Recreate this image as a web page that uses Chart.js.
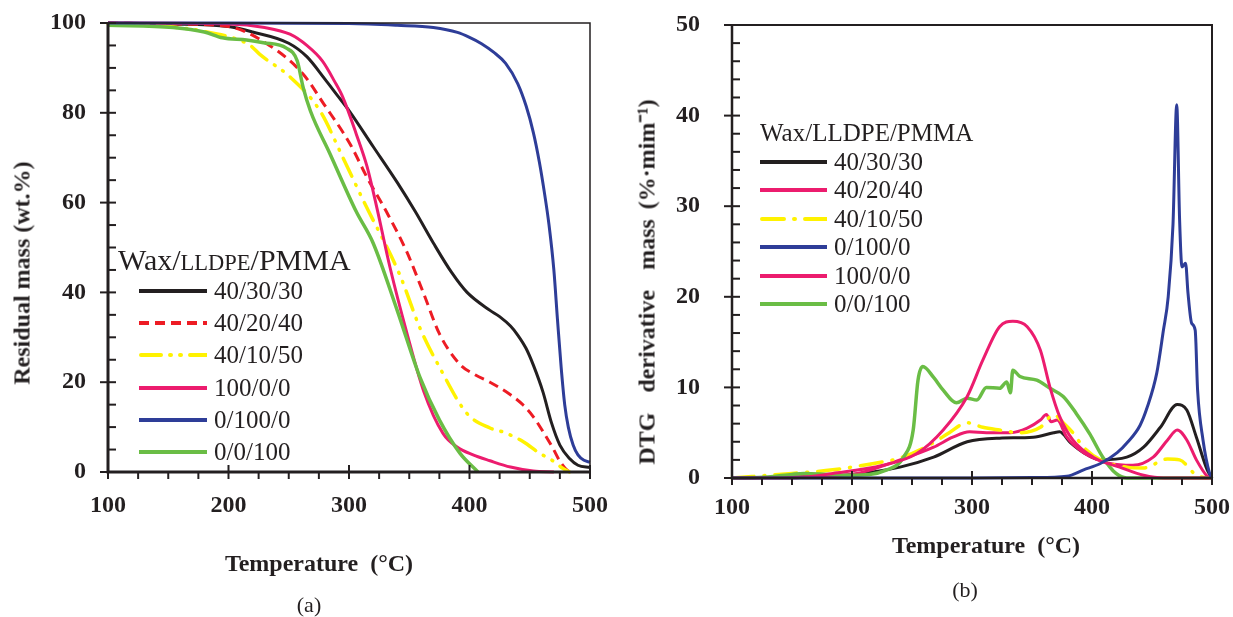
<!DOCTYPE html>
<html>
<head>
<meta charset="utf-8">
<script src="https://cdn.jsdelivr.net/npm/chart.js@4.4.1/dist/chart.umd.min.js"></script>
<style>
  body { margin: 0; background: #fff; width: 1233px; height: 617px; position: relative; overflow: hidden;
         font-family: "Liberation Serif", "Times New Roman", serif; color: #231f20; }
  canvas { position: absolute; top: 0; }
  #tg { left: 0; }
  #dtg { left: 620px; }
  .ttl { position: absolute; white-space: pre; font-weight: bold; font-size: 24px; transform: translate(-50%, -50%); }
  .ttl.rot { transform: translate(-50%, -50%) rotate(-90deg); }
  .cap { position: absolute; font-size: 22px; transform: translate(-50%, -50%); }
  .legTitle { position: absolute; white-space: pre; transform: translateY(-50%); }
  .row { position: absolute; display: flex; align-items: center; transform: translateY(-50%); white-space: pre; }
  .row svg { display: block; }
</style>
</head>
<body>
<canvas id="tg" width="620" height="617"></canvas>
<canvas id="dtg" width="613" height="617"></canvas>

<div class="ttl rot" style="left:22px; top:273px;">Residual mass (wt.%)</div>
<div class="ttl" style="left:319px; top:563px;">Temperature  (°C)</div>
<div class="cap" style="left:309px; top:605px;">(a)</div>

<div class="ttl rot" style="left:645px; top:282px; word-spacing:4px;">DTG  derivative  mass (%·mim⁻¹)</div>
<div class="ttl" style="left:986px; top:545px;">Temperature  (°C)</div>
<div class="cap" style="left:965px; top:590px;">(b)</div>

<div class="legTitle" style="left:118px; top:260px; font-size:30px;">Wax/<span style="font-size:22.5px">LLDPE</span>/PMMA</div>
<div class="legTitle" style="left:760px; top:133px; font-size:25px;">Wax/LLDPE/PMMA</div>
<div id="legA"></div>
<div id="legB"></div>

<script>
// ---------- axis ticks ----------
const xTicks = [100, 200, 300, 400, 500];
const tgTicks = [0, 20, 40, 60, 80, 100];
const dtgTicks = [0, 10, 20, 30, 40, 50];

// ---------- (a) TG curves: temperature (°C) / residual mass (wt.%) ----------
const tgLabels = ['40/30/30', '40/20/40', '40/10/50', '100/0/0', '0/100/0', '0/0/100'];

const tgT_40_30_30 = [100, 150, 200, 220, 250, 265, 280, 290, 300, 320, 340, 355, 370, 385, 398, 417, 425, 434, 440, 447, 453, 461, 468, 475, 483, 490, 500];
const tgW_40_30_30 = [100, 99.8, 99.2, 98, 95.5, 92.5, 87.5, 84, 80.5, 72.5, 64.5, 58, 51, 44.5, 40, 36, 34.6, 32.5, 30.5, 27.5, 23.8, 17.8, 11, 6, 3, 1.5, 1];

const tgT_40_20_40 = [100, 150, 200, 234, 262, 279, 301, 315, 331, 348, 362, 375, 392, 405, 417, 434, 445, 453, 461, 469, 475, 481, 485];
const tgW_40_20_40 = [100, 99.8, 99.2, 95, 88.6, 82, 73, 65.6, 58, 49, 39.7, 30.8, 24, 21.6, 20, 17.2, 14.8, 12.3, 9, 5.4, 2.4, 0.4, 0];

const tgT_40_10_50 = [100, 150, 182, 218, 226, 251, 276, 295, 312, 342, 359, 375, 398, 417, 428, 445, 458, 468, 477, 483];
const tgW_40_10_50 = [99.8, 99.2, 98, 95, 93, 88, 80.4, 70, 60.4, 44, 32, 23.4, 13, 9.8, 8.9, 6.7, 4.2, 2.7, 0.9, 0];

const tgT_100_0_0 = [100, 200, 230, 251, 265, 278, 288, 295, 306, 315, 323, 334, 348, 362, 378, 390, 403, 417, 434, 453, 470];
const tgW_100_0_0 = [100, 99.8, 99, 97.5, 95, 91.5, 87, 83.4, 75.3, 68, 59, 45.6, 31, 18, 8.6, 5.5, 3.8, 2.5, 1.1, 0.2, 0];

const tgT_0_100_0 = [100, 200, 300, 340, 370, 390, 400, 410, 420, 430, 440, 447, 453, 458, 462, 466, 470, 473, 476, 479, 482, 486, 490, 495, 500];
const tgW_0_100_0 = [100, 100, 99.9, 99.5, 99, 97.9, 96.8, 95.4, 93.5, 91, 86.5, 81.5, 75.6, 69, 62.5, 55, 45, 34, 23.5, 15, 10, 6, 3.8, 2.6, 2.2];

const tgT_0_0_100 = [100, 154, 180, 195, 215, 229, 248, 257, 262, 268, 284, 306, 320, 340, 359, 375, 392, 407];
const tgW_0_0_100 = [99.5, 99, 98, 96.7, 96.2, 95.6, 94.4, 91.6, 85.6, 80.4, 71, 58, 51, 36, 21, 11.6, 4.2, 0];

// ---------- (b) DTG curves: temperature (°C) / rate (%·min-1) ----------
const dtgLabels = ['40/30/30', '40/20/40', '40/10/50', '0/100/0', '100/0/0', '0/0/100'];

const dtgT_40_30_30 = [100, 150, 200, 240, 268, 296, 323, 351, 368, 373, 382, 393, 407, 429, 443, 457, 471, 479, 487, 496, 500];
const dtgR_40_30_30 = [0, 0.1, 0.4, 1.2, 2.3, 4, 4.4, 4.5, 5, 5.1, 3.9, 2.8, 2, 2.3, 3.4, 5.6, 8.1, 7.5, 4.5, 0.9, 0];

const dtgT_40_20_40 = [100, 150, 200, 240, 268, 284, 298, 312, 332, 346, 357, 362, 366, 371, 379, 393, 415, 434, 451, 463, 471, 479, 487, 496, 500];
const dtgR_40_20_40 = [0, 0.1, 0.4, 2, 3.4, 4.5, 5.1, 5, 5, 5.5, 6.4, 7, 6.2, 6.4, 4.5, 2.8, 1.6, 1.4, 2.3, 4.2, 5.3, 4.2, 2, 0.2, 0];

const dtgT_40_10_50 = [100, 150, 184, 226, 240, 268, 281, 296, 309, 323, 340, 357, 368, 376, 384, 393, 407, 429, 443, 463, 473, 487, 495];
const dtgR_40_10_50 = [0, 0.5, 0.9, 1.8, 2.2, 3.9, 5, 6.1, 5.6, 5.3, 5, 5.6, 7, 6.1, 5, 3.4, 2, 1.2, 1.1, 2.1, 2, 0.3, 0];

const dtgT_0_100_0 = [100, 300, 350, 379, 393, 407, 421, 430, 440, 446, 454, 459.5, 463.5, 467.5, 470.6, 473, 475, 478, 480, 483, 486, 488, 492.5, 498, 500];
const dtgR_0_100_0 = [0, 0, 0.05, 0.2, 0.9, 1.6, 2.8, 4, 5.8, 7.8, 11.6, 16.3, 20, 28, 41.2, 28.5, 23.3, 23.7, 20.4, 17.1, 16.3, 9.7, 4.2, 0.5, 0];

const dtgT_100_0_0 = [100, 150, 184, 226, 254, 276, 296, 309, 323, 334, 346, 357, 365, 373, 384, 401, 423, 443, 460, 500];
const dtgR_100_0_0 = [0, 0, 0.5, 1.4, 2.7, 5.3, 9, 13, 16.7, 17.3, 16.7, 14.1, 10, 6.8, 4.2, 2.3, 1.2, 0.3, 0, 0];

const dtgT_0_0_100 = [100, 130, 150, 160, 180, 200, 229, 243, 251, 255, 259, 268, 276, 287, 296, 304, 312, 323, 329, 332, 334, 340, 354, 365, 376, 387, 398, 409, 420, 429, 500];
const dtgR_0_0_100 = [0, 0.1, 0.4, 0.5, 0.4, 0.3, 0.9, 2.3, 5.3, 10.8, 12.3, 11.1, 9.7, 8.3, 8.8, 8.6, 10, 9.9, 10.6, 9.4, 11.9, 11.2, 10.8, 9.9, 9, 7.1, 4.9, 2.3, 0.5, 0, 0];

// ---------- styles ----------
const INK = '#231f20';
const black  = { color: INK,       dash: [],                  cap: 'butt',  width: 3 };
const red    = { color: '#ed1c24', dash: [10, 6],             cap: 'butt',  width: 3 };
const yellow2 = { color: '#fff200', dash: [20, 9, 1, 9, 1, 9], cap: 'round', width: 3.5 };
const yellow1 = { color: '#fff200', dash: [22, 10, 1, 10],     cap: 'round', width: 3.5 };
const pink   = { color: '#ec1c6e', dash: [],                  cap: 'butt',  width: 3 };
const blue   = { color: '#2e3d98', dash: [],                  cap: 'butt',  width: 3 };
const green  = { color: '#6abd45', dash: [],                  cap: 'butt',  width: 3.5 };

const tgStyle  = { '40/30/30': black, '40/20/40': red, '40/10/50': yellow2, '100/0/0': pink, '0/100/0': blue, '0/0/100': green };
const dtgStyle = { '40/30/30': black, '40/20/40': pink, '40/10/50': yellow1, '0/100/0': blue, '100/0/0': pink, '0/0/100': green };

// draw priority (lower = on top)
const tgOrder  = { '0/100/0': 0, '0/0/100': 1, '100/0/0': 2, '40/10/50': 3, '40/20/40': 4, '40/30/30': 5 };
const dtgOrder = { '0/100/0': 0, '0/0/100': 2, '100/0/0': 1, '40/10/50': 3, '40/20/40': 4, '40/30/30': 5 };

const tgData = {
  '40/30/30': [tgT_40_30_30, tgW_40_30_30], '40/20/40': [tgT_40_20_40, tgW_40_20_40],
  '40/10/50': [tgT_40_10_50, tgW_40_10_50], '100/0/0': [tgT_100_0_0, tgW_100_0_0],
  '0/100/0': [tgT_0_100_0, tgW_0_100_0], '0/0/100': [tgT_0_0_100, tgW_0_0_100]
};
const dtgData = {
  '40/30/30': [dtgT_40_30_30, dtgR_40_30_30], '40/20/40': [dtgT_40_20_40, dtgR_40_20_40],
  '40/10/50': [dtgT_40_10_50, dtgR_40_10_50], '0/100/0': [dtgT_0_100_0, dtgR_0_100_0],
  '100/0/0': [dtgT_100_0_0, dtgR_100_0_0], '0/0/100': [dtgT_0_0_100, dtgR_0_0_100]
};

function toDatasets(labels, data, styles, order) {
  return labels.map(l => {
    const s = styles[l];
    const [t, v] = data[l];
    return {
      label: l,
      data: t.map((x, i) => ({ x, y: v[i] })),
      borderColor: s.color,
      borderWidth: s.width,
      borderDash: s.dash,
      borderCapStyle: s.cap,
      borderJoinStyle: 'round',
      pointRadius: 0,
      cubicInterpolationMode: 'monotone',
      fill: false,
      clip: 8,
      order: order[l]
    };
  });
}

// frame box + major/minor tick marks, placed through the chart scales
const frameTicks = {
  id: 'frameTicks',
  afterDraw(chart, args, o) {
    const { ctx, chartArea: a, scales: { x, y } } = chart;
    ctx.save();
    ctx.strokeStyle = INK;
    ctx.lineCap = 'butt';
    ctx.lineWidth = o.thin;
    ctx.beginPath();
    ctx.moveTo(a.left, a.top); ctx.lineTo(a.right, a.top); ctx.lineTo(a.right, a.bottom);
    ctx.stroke();
    ctx.lineWidth = o.thick;
    ctx.beginPath();
    ctx.moveTo(a.left, a.top - o.thin / 2); ctx.lineTo(a.left, a.bottom); ctx.lineTo(a.right + o.thin / 2, a.bottom);
    ctx.stroke();

    ctx.lineWidth = 2;
    const majX = x.ticks.map(t => t.value);
    for (let v = x.min; v <= x.max + 1e-6; v += o.xMinor) {
      const px = x.getPixelForValue(v);
      const major = majX.some(m => Math.abs(m - v) < 1e-6);
      ctx.beginPath();
      ctx.moveTo(px, major ? a.bottom - 7 : a.bottom);
      ctx.lineTo(px, a.bottom + 7);
      ctx.stroke();
    }
    const majY = y.ticks.map(t => t.value);
    for (let v = y.min; v <= y.max + 1e-6; v += o.yMinor) {
      const py = y.getPixelForValue(v);
      const major = majY.some(m => Math.abs(m - v) < 1e-6);
      ctx.beginPath();
      ctx.moveTo(major ? a.left - 8 : a.left, py);
      ctx.lineTo(a.left + 8, py);
      ctx.stroke();
    }
    ctx.restore();
  }
};

const tickFont = { family: '"Liberation Serif", "Times New Roman", serif', size: 24, weight: 'bold' };

// fixed axis sizes; label overflow is already covered by the layout padding
function fixBox(s, key, size) {
  s[key] = size;
  s.paddingLeft = s.paddingRight = s.paddingTop = s.paddingBottom = 0;
}

function makeChart(id, datasets, yTicks, box) {
  return new Chart(document.getElementById(id), {
    type: 'line',
    data: { datasets },
    options: {
      responsive: false,
      animation: false,
      events: [],
      layout: { padding: { left: 0, top: box.top, right: box.right, bottom: 0 } },
      scales: {
        x: {
          type: 'linear',
          min: xTicks[0], max: xTicks[xTicks.length - 1],
          grid: { display: false, drawTicks: false },
          border: { display: false },
          ticks: { stepSize: xTicks[1] - xTicks[0], font: tickFont, color: INK, padding: box.xPad, maxRotation: 0 },
          afterFit: s => fixBox(s, 'height', box.xHeight)
        },
        y: {
          min: yTicks[0], max: yTicks[yTicks.length - 1],
          grid: { display: false, drawTicks: false },
          border: { display: false },
          ticks: { stepSize: yTicks[1] - yTicks[0], font: tickFont, color: INK, padding: box.yPad },
          afterFit: s => fixBox(s, 'width', box.yWidth)
        }
      },
      plugins: {
        legend: { display: false },
        tooltip: { enabled: false },
        frameTicks: box.frame
      }
    },
    plugins: [frameTicks]
  });
}

makeChart('tg', toDatasets(tgLabels, tgData, tgStyle, tgOrder), tgTicks,
  { top: 23, right: 30, xHeight: 145, yWidth: 108, xPad: 19, yPad: 22,
    frame: { thin: 1.5, thick: 3, xMinor: 25, yMinor: 5 } });

makeChart('dtg', toDatasets(dtgLabels, dtgData, dtgStyle, dtgOrder), dtgTicks,
  { top: 25, right: 21, xHeight: 139, yWidth: 112, xPad: 15, yPad: 32,
    frame: { thin: 2, thick: 2.5, xMinor: 25, yMinor: 2 } });

// ---------- legends ----------
function buildLegend(el, labels, styles, left, top0, step, fontSize, lineW) {
  labels.forEach((l, i) => {
    const s = styles[l];
    const row = document.createElement('div');
    row.className = 'row';
    row.style.left = left + 'px';
    row.style.top = (top0 + i * step) + 'px';
    row.style.fontSize = fontSize + 'px';
    const dash = s.dash.length ? `stroke-dasharray="${s.dash.join(' ')}"` : '';
    row.innerHTML =
      `<svg width="${lineW}" height="10"><line x1="${s.cap === 'round' ? 2 : 0}" y1="5" x2="${lineW}" y2="5" stroke="${s.color}" stroke-width="4" stroke-linecap="${s.cap}" ${dash}/></svg>` +
      `<span style="margin-left:7px">${l}</span>`;
    el.appendChild(row);
  });
}
buildLegend(document.getElementById('legA'), tgLabels, tgStyle, 139, 291, 32.2, 25, 68);
buildLegend(document.getElementById('legB'), dtgLabels, dtgStyle, 760, 162, 28.4, 25, 67);
</script>
</body>
</html>
